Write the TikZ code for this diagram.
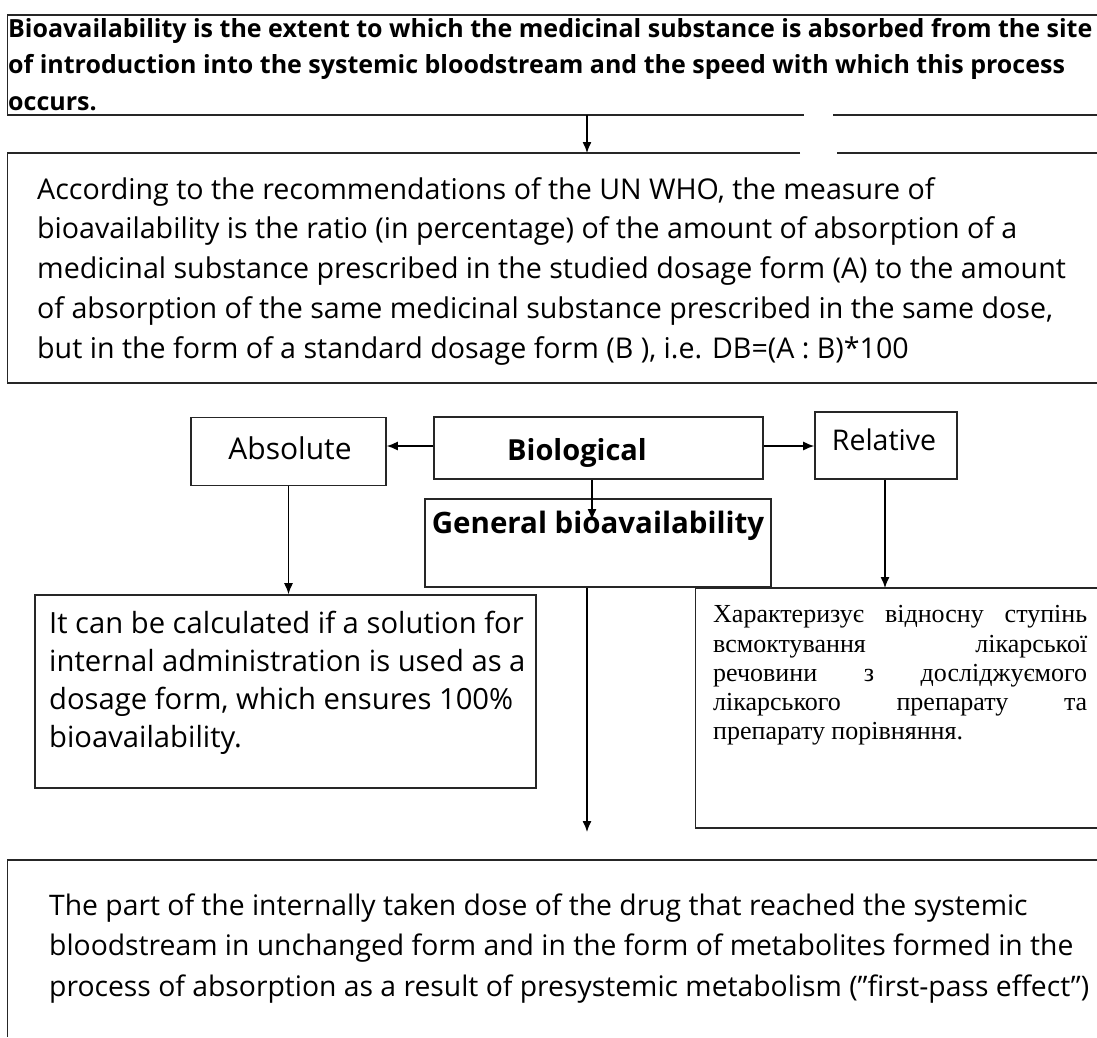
\documentclass[tikz,border=0pt]{standalone}
\usepackage{fontspec}
\setmainfont{Open Sans}
\newfontfamily\ukserif{Liberation Serif}
\usetikzlibrary{arrows.meta}
\tikzset{
  frame/.style={line width=1.6pt, draw=black!85},
  conn/.style={line width=1.3pt, -{Latex[length=11pt,width=9pt]}},
  txt/.style={inner sep=0pt, align=left, anchor=north west},
  lbl/.style={inner sep=0pt, anchor=base},
}
\begin{document}
\begin{tikzpicture}[x=1pt,y=-1pt]
\useasboundingbox (0,0) rectangle (1097,1037);
% ---------- box 1 ----------
\draw[frame] (1097,15) -- (7.5,15) -- (7.5,115) -- (804,115);
\draw[frame] (833,115) -- (1097,115);
\node[txt, font=\bfseries\fontsize{25}{36.5}\selectfont] (t1) at (8,11.5)
 {\strut Bioavailability is the extent to which the medicinal substance is absorbed from the site\\
  \strut of introduction into the systemic bloodstream and the speed with which this process\\
  \strut occurs.};
\coordinate (b1) at (587,115);
\coordinate (b2) at (587,153);
% ---------- box 2 ----------
\draw[frame] (800,153) -- (7.5,153) -- (7.5,383) -- (1097,383);
\draw[frame] (837,153) -- (1097,153);
\draw[conn] (b1) -- (b2);
\node[txt, font=\fontsize{28.6}{39.8}\selectfont] (t2) at (37,171.1)
 {\strut According to the recommendations of the UN WHO, the measure of\\
  \strut bioavailability is the ratio (in percentage) of the amount of absorption of a\\
  \strut medicinal substance prescribed in the studied dosage form (A) to the amount\\
  \strut of absorption of the same medicinal substance prescribed in the same dose,\\
  \strut but in the form of a standard dosage form (B ), i.e. DB=(A : B)*100};
% ---------- middle boxes ----------
\node[frame, minimum width=195pt, minimum height=68pt] (abs) at (288.5,451.5) {};
\node[lbl, font=\fontsize{30}{34}\selectfont] (absT) at (290,459) {Absolute};
\node[frame, minimum width=329pt, minimum height=62pt] (bio) at (598.5,448) {};
\node[lbl, font=\bfseries\fontsize{29}{34}\selectfont] (bioT) at (577,460) {Biological};
\node[frame, minimum width=142pt, minimum height=67pt] (rel) at (886,445.5) {};
\node[lbl, font=\fontsize{28.5}{34}\selectfont] (relT) at (884,450) {Relative};
\node[frame, minimum width=346pt, minimum height=88pt] (gen) at (598,543) {};
\node[lbl, font=\bfseries\fontsize{29.5}{34}\selectfont] (genT) at (598,533) {General bioavailability};
% ---------- text boxes ----------
\node[frame, minimum width=501pt, minimum height=193pt] (lbox) at (285.5,691.5) {};
\node[txt, font=\fontsize{29.2}{38.3}\selectfont] (lt) at (49,606)
 {\strut It can be calculated if a solution for\\
  \strut internal administration is used as a\\
  \strut dosage form, which ensures 100\%\\
  \strut bioavailability.};
\draw[frame] (1097,588) -- (695.5,588) -- (695.5,828) -- (1097,828);
\coordinate (rtop) at (885,588);
\node[inner sep=0pt, anchor=north west, text width=374pt, align=justify,
      font=\ukserif\fontsize{26}{29.3}\selectfont] (rt) at (713,602)
 {\hyphenpenalty=10000\strut Характеризує відносну ступінь\linebreak
  всмоктування лікарської\linebreak
  речовини з досліджуємого\linebreak
  лікарського препарату та\linebreak
  препарату порівняння.};
% ---------- bottom box ----------
\draw[frame] (1097,860) -- (7.5,860) -- (7.5,1037);
\node[txt, font=\fontsize{28.3}{40.5}\selectfont] (bt) at (49,886.6)
 {\strut The part of the internally taken dose of the drug that reached the systemic\\
  \strut bloodstream in unchanged form and in the form of metabolites formed in the\\
  \strut process of absorption as a result of presystemic metabolism (\char"22 first-pass effect\char"22)};
\coordinate (gend) at (587,832);
% ---------- connectors ----------
\draw[conn] (bio.west |- 0,446) -- (abs.east |- 0,446);
\draw[conn] (bio.east |- 0,446) -- (rel.west |- 0,446);
\draw[conn] (bio.south -| 592,0) -- (592,520);
\draw[conn] (abs.south) -- (abs.south |- lbox.north);
\draw[conn] (rel.south -| rtop) -- (rtop);
\draw[conn] (gen.south -| gend) -- (gend);
\end{tikzpicture}
\end{document}
